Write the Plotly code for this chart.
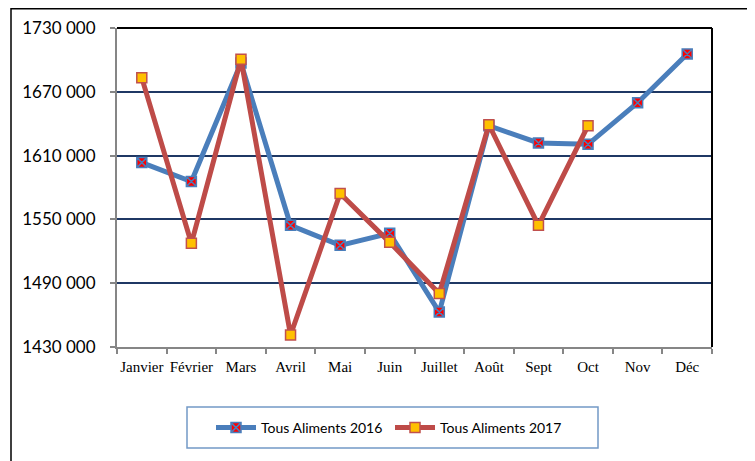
import plotly.graph_objects as go

months = ["Janvier", "Février", "Mars", "Avril", "Mai", "Juin", "Juillet", "Août", "Sept", "Oct", "Nov", "Déc"]
vals_2016 = [1603400, 1585600, 1697000, 1544400, 1525600, 1536900, 1462800, 1638100, 1621900, 1620600, 1659700, 1705600]
vals_2017 = [1683100, 1527500, 1700600, 1441300, 1574400, 1528400, 1480300, 1639000, 1544400, 1638100, None, None]
ytick_vals = [1430000, 1490000, 1550000, 1610000, 1670000, 1730000]
ytick_text = ["1430 000", "1490 000", "1550 000", "1610 000", "1670 000", "1730 000"]

fig = go.Figure()
fig.add_trace(go.Scatter(
    x=months, y=vals_2016, name="Tous Aliments 2016", mode="lines+markers",
    line=dict(color="#4A7EBB", width=5),
    marker=dict(symbol="square-x", size=10, color="#FF0000", line=dict(color="#4A7EBB", width=1.5)),
))
fig.add_trace(go.Scatter(
    x=months, y=vals_2017, name="Tous Aliments 2017", mode="lines+markers",
    line=dict(color="#BE4B48", width=5),
    marker=dict(symbol="square", size=10, color="#FFC000", line=dict(color="#C0504D", width=1.5)),
))

OFF = 8  # page body margin
W, H = 755 - OFF, 461 - OFF
L, T = 117 - OFF, 28 - OFF
R = W - (712 - OFF)
B = H - (347 - OFF)
pw, ph = W - L - R, H - T - B

def px_x(x):
    return (x - OFF - L) / pw

def px_y(y):
    return (H - B - (y - OFF)) / ph

shapes = [
    dict(type="rect", xref="paper", yref="paper", x0=px_x(11), x1=px_x(748), y0=px_y(475), y1=px_y(8.8),
         line=dict(color="black", width=1.5), fillcolor="rgba(0,0,0,0)", layer="below"),
    dict(type="rect", xref="paper", yref="paper", x0=px_x(187), x1=px_x(598), y0=px_y(448), y1=px_y(407),
         line=dict(color="#7399C6", width=1.5), fillcolor="white", layer="below"),
    dict(type="line", xref="paper", yref="paper", x0=0, x1=1, y0=1, y1=1, line=dict(color="black", width=2)),
    dict(type="line", xref="paper", yref="paper", x0=1, x1=1, y0=0, y1=1, line=dict(color="black", width=2)),
]

fig.update_layout(
    width=W, height=H,
    margin=dict(l=L, r=R, t=T, b=B, autoexpand=False),
    paper_bgcolor="white", plot_bgcolor="white",
    shapes=shapes,
    showlegend=True,
    legend=dict(
        orientation="h", x=px_x(211), y=px_y(428), xanchor="left", yanchor="middle",
        borderwidth=0, bgcolor="rgba(0,0,0,0)",
        font=dict(family="Lato, Noto Sans, sans-serif", size=14, color="black"),
        entrywidth=124, itemwidth=40,
    ),
    xaxis=dict(
        showgrid=False, showline=True, linecolor="#868686", linewidth=2,
        ticks="outside", tickson="boundaries", ticklen=5, tickcolor="#868686", tickwidth=1.5,
        tickfont=dict(family="Liberation Serif, Times New Roman, serif", size=15, color="black"),
        tickangle=0, automargin=False, ticklabelstandoff=5,
        range=[-0.5, 11.5],
    ),
    yaxis=dict(
        range=[1430000, 1730000], tickvals=ytick_vals, ticktext=ytick_text,
        showgrid=True, gridcolor="#1F3864", gridwidth=2,
        showline=True, linecolor="#868686", linewidth=2,
        ticks="outside", ticklen=5, tickcolor="#868686", tickwidth=1.5,
        tickfont=dict(family="Lato, Noto Sans, sans-serif", size=17, color="black"),
        ticklabelstandoff=11, zeroline=False, automargin=False,
    ),
)

fig.write_html("out.html")
